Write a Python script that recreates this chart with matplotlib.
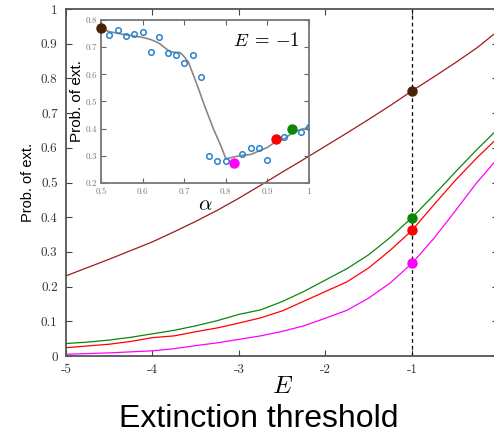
import matplotlib
matplotlib.use("Agg")
import matplotlib.pyplot as plt

# main panel: probability of extinction vs threshold E
E = [-5, -4.75, -4.5, -4.25, -4, -3.75, -3.5, -3.25, -3, -2.75, -2.5,
     -2.25, -2, -1.75, -1.5, -1.25, -1, -0.75, -0.5, -0.25, 0]
p_brown = [0.231, 0.255, 0.279, 0.304, 0.329, 0.358, 0.388, 0.420, 0.455, 0.492, 0.530,
           0.567, 0.605, 0.643, 0.682, 0.722, 0.764, 0.804, 0.845, 0.888, 0.938]
p_green = [0.036, 0.040, 0.046, 0.054, 0.064, 0.074, 0.087, 0.102, 0.120, 0.133, 0.157,
           0.186, 0.219, 0.252, 0.292, 0.342, 0.399, 0.463, 0.530, 0.595, 0.656]
p_red = [0.024, 0.029, 0.034, 0.042, 0.053, 0.058, 0.070, 0.081, 0.095, 0.110, 0.130,
         0.158, 0.186, 0.214, 0.254, 0.305, 0.362, 0.435, 0.506, 0.571, 0.631]
p_magenta = [0.005, 0.007, 0.009, 0.012, 0.015, 0.021, 0.030, 0.038, 0.048, 0.058, 0.071,
             0.087, 0.109, 0.132, 0.167, 0.211, 0.267, 0.338, 0.418, 0.500, 0.572]
E_cut = -1

# inset: probability of extinction vs alpha at E = -1
alpha_pts = [0.52, 0.54, 0.56, 0.58, 0.60, 0.62, 0.64, 0.66, 0.68, 0.70, 0.72,
             0.74, 0.76, 0.78, 0.80, 0.84, 0.86, 0.88, 0.90, 0.94, 0.98, 1.00]
p_pts = [0.746, 0.762, 0.740, 0.747, 0.756, 0.684, 0.739, 0.678, 0.673, 0.640, 0.670,
         0.592, 0.300, 0.282, 0.281, 0.307, 0.330, 0.330, 0.286, 0.368, 0.386, 0.406]
alpha_fit = [0.50, 0.52, 0.55, 0.60, 0.62, 0.64, 0.66, 0.67, 0.69, 0.70, 0.71, 0.73,
             0.75, 0.77, 0.79, 0.80, 0.82, 0.84, 0.86, 0.88, 0.90, 0.92, 0.94, 0.96,
             0.98, 1.00]
p_fit = [0.769, 0.757, 0.748, 0.736, 0.728, 0.714, 0.690, 0.682, 0.680, 0.665, 0.645,
         0.565, 0.480, 0.400, 0.330, 0.289, 0.296, 0.302, 0.305, 0.318, 0.331, 0.352,
         0.362, 0.385, 0.397, 0.405]
alpha_sel = [0.50, 0.82, 0.92, 0.96]
p_sel = [0.772, 0.274, 0.362, 0.397]

c_line_brown = '#9a1c1c'
c_dot_brown = '#4a2206'
c_green = '#0a870a'
c_red = '#ff0000'
c_magenta = '#ff00ff'
sel_colors = [c_dot_brown, c_magenta, c_red, c_green]

plt.rcParams['mathtext.fontset'] = 'cm'
plt.rcParams['axes.unicode_minus'] = False
serif = ['cmr10', 'DejaVu Serif']
sans = ['Liberation Sans', 'DejaVu Sans']

fig = plt.figure(figsize=(4.94, 4.33), dpi=100)
ax = fig.add_axes([0.1336, 0.1778, 0.8755, 0.8014])

ax.plot(E, p_brown, color=c_line_brown, lw=0.9)
ax.plot(E, p_green, color=c_green, lw=0.9)
ax.plot(E, p_red, color=c_red, lw=0.9)
ax.plot(E, p_magenta, color=c_magenta, lw=0.9)
ax.axvline(E_cut, color='black', lw=0.9, ls=(0, (3, 2.5)))

i = E.index(E_cut)
for vals, col in [(p_brown, c_dot_brown), (p_green, c_green), (p_red, c_red),
                  (p_magenta, c_magenta)]:
    ax.plot(E_cut, vals[i], 'o', color=col, ms=6.5, zorder=5)

ax.set_xlim(-5, 0)
ax.set_ylim(0, 1)
ax.set_xticks([-5, -4, -3, -2, -1])
ax.set_xticklabels(['-5', '-4', '-3', '-2', '-1'], family=serif, fontsize=9.5, color='#333333')
yt = [0, 0.1, 0.2, 0.3, 0.4, 0.5, 0.6, 0.7, 0.8, 0.9, 1]
ax.set_yticks(yt)
ax.set_yticklabels(['0', '0.1', '0.2', '0.3', '0.4', '0.5', '0.6', '0.7', '0.8', '0.9', '1'],
                   family=serif, fontsize=9.5, color='#333333')
ax.tick_params(direction='in', length=4, width=0.8, top=True, right=True, pad=6,
               color='#444444')
for s in ax.spines.values():
    s.set_color('#555555')
    s.set_linewidth(1.3)

ax.set_xlabel('$E$', fontsize=18, labelpad=-2)
ax.set_ylabel('Prob. of ext.', family=sans, fontsize=10.5, labelpad=4)
fig.text(0.523, 0.032, 'Extinction threshold', family=sans, fontsize=23,
         ha='center', va='center')

# inset (transparent, the main curve shows through)
ins = fig.add_axes([0.2045, 0.5774, 0.421, 0.3764])
ins.patch.set_alpha(0)
ins.plot(alpha_fit, p_fit, color='#888888', lw=1.2)
ins.plot(alpha_pts, p_pts, 'o', mfc='none', mec='#2a82cf', mew=1.1, ms=4)
for a, p, col in zip(alpha_sel, p_sel, sel_colors):
    ins.plot(a, p, 'o', color=col, ms=6.5, zorder=5, clip_on=False)
ins.set_xlim(0.5, 1.0)
ins.set_ylim(0.2, 0.8)
ins.set_xticks([0.5, 0.6, 0.7, 0.8, 0.9, 1.0])
ins.set_xticklabels(['0.5', '0.6', '0.7', '0.8', '0.9', '1'], family=serif, fontsize=6.5,
                    color='#7a7a7a')
ins.set_yticks([0.2, 0.3, 0.4, 0.5, 0.6, 0.7, 0.8])
ins.set_yticklabels(['0.2', '0.3', '0.4', '0.5', '0.6', '0.7', '0.8'], family=serif,
                    fontsize=6.5, color='#7a7a7a')
ins.tick_params(direction='in', length=3.5, width=0.8, top=True, right=True, pad=3,
                color='#666666')
for s in ins.spines.values():
    s.set_color('#777777')
    s.set_linewidth(1.3)
ins.set_xlabel(r'$\alpha$', fontsize=15, labelpad=-1)
ins.set_ylabel('Prob. of ext.', family=sans, fontsize=11, labelpad=1)
ins.text(0.955, 0.93, r'$E\;=\,{-1}$', transform=ins.transAxes, fontsize=13.5,
         ha='right', va='top')

fig.savefig('out.png', dpi=100)
